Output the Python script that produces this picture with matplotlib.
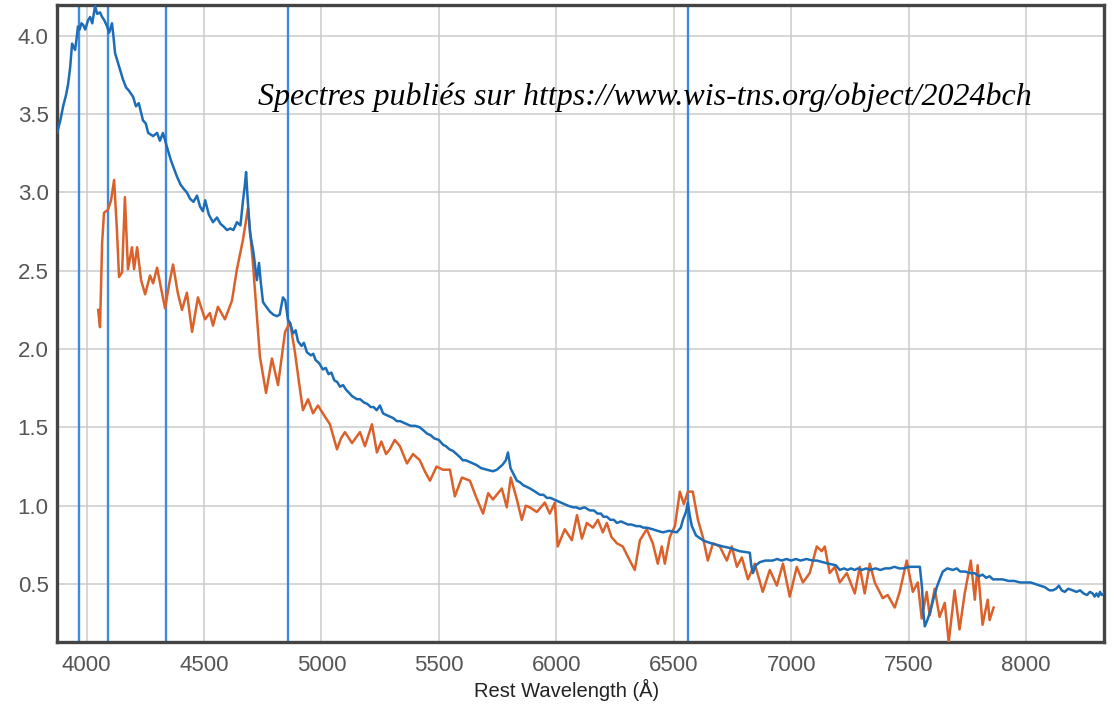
import numpy as np
import matplotlib.pyplot as plt

# first spectrum (blue)
blue_wl = [3874, 3888, 3900, 3912, 3921, 3930, 3938, 3944, 3951, 3957, 3963, 3970,
           3978, 3985, 3994, 4006, 4015, 4024, 4036, 4045, 4057, 4066, 4075, 4087,
           4096, 4108, 4114, 4121, 4135, 4147, 4155, 4168, 4180, 4198, 4210, 4222,
           4240, 4252, 4262, 4283, 4300, 4312, 4325, 4333, 4342, 4360, 4385, 4400,
           4415, 4427, 4440, 4455, 4470, 4483, 4495, 4505, 4520, 4538, 4555, 4570,
           4585, 4598, 4612, 4625, 4640, 4655, 4666, 4674, 4679, 4686, 4696, 4710,
           4725, 4734, 4742, 4751, 4765, 4780, 4795, 4810, 4822, 4836, 4846, 4857,
           4868, 4879, 4890, 4900, 4915, 4925, 4938, 4955, 4965, 4975, 4990, 5006,
           5018, 5030, 5042, 5055, 5067, 5079, 5092, 5105, 5118, 5130, 5151, 5165,
           5180, 5195, 5210, 5222, 5235, 5249, 5262, 5275, 5290, 5305, 5321, 5335,
           5350, 5365, 5380, 5400, 5419, 5435, 5450, 5465, 5480, 5500, 5517, 5530,
           5545, 5560, 5575, 5590, 5602, 5615, 5630, 5645, 5660, 5680, 5704, 5730,
           5747, 5770, 5785, 5794, 5805, 5832, 5845, 5860, 5875, 5888, 5910, 5930,
           5945, 5960, 5975, 5990, 6005, 6020, 6035, 6050, 6071, 6085, 6100, 6120,
           6143, 6160, 6175, 6190, 6200, 6215, 6230, 6245, 6258, 6275, 6290, 6305,
           6320, 6340, 6356, 6370, 6385, 6410, 6430, 6454, 6480, 6513, 6530, 6539,
           6552, 6560, 6568, 6577, 6595, 6624, 6640, 6660, 6685, 6709, 6740, 6780,
           6824, 6830, 6837, 6850, 6867, 6890, 6922, 6940, 6960, 6980, 7000, 7020,
           7040, 7065, 7092, 7110, 7134, 7160, 7190, 7207, 7225, 7240, 7255, 7270,
           7285, 7300, 7320, 7335, 7360, 7380, 7400, 7420, 7440, 7460, 7480, 7500,
           7525, 7548, 7552, 7557, 7563, 7569, 7580, 7591, 7605, 7620, 7635, 7646,
           7665, 7689, 7705, 7720, 7740, 7761, 7780, 7800, 7815, 7830, 7845, 7859,
           7880, 7900, 7925, 7950, 7975, 8004, 8020, 8040, 8060, 8080, 8100, 8114,
           8128, 8140, 8152, 8165, 8180, 8199, 8215, 8230, 8245, 8260, 8272, 8284,
           8292, 8300, 8308, 8315, 8322, 8331]
blue_flux = [3.38, 3.46, 3.55, 3.62, 3.69, 3.80, 3.95, 3.93, 3.91, 3.98, 4.06, 4.04,
             4.08, 4.07, 4.04, 4.10, 4.12, 4.08, 4.19, 4.14, 4.15, 4.12, 4.10, 4.06,
             4.02, 4.08, 4.00, 3.89, 3.82, 3.76, 3.72, 3.67, 3.65, 3.61, 3.55, 3.57,
             3.46, 3.44, 3.38, 3.36, 3.38, 3.33, 3.38, 3.34, 3.29, 3.20, 3.10, 3.05,
             3.02, 3.00, 2.96, 2.94, 2.98, 2.91, 2.88, 2.95, 2.86, 2.81, 2.84, 2.80,
             2.78, 2.76, 2.77, 2.76, 2.81, 2.79, 2.95, 3.05, 3.13, 2.95, 2.74, 2.62,
             2.44, 2.55, 2.42, 2.30, 2.27, 2.24, 2.22, 2.21, 2.22, 2.33, 2.31, 2.19,
             2.16, 2.10, 2.12, 2.05, 2.02, 2.04, 1.98, 1.96, 1.97, 1.93, 1.91, 1.87,
             1.88, 1.84, 1.85, 1.80, 1.79, 1.76, 1.77, 1.74, 1.72, 1.70, 1.68, 1.68,
             1.66, 1.65, 1.63, 1.63, 1.61, 1.64, 1.59, 1.58, 1.57, 1.56, 1.54, 1.54,
             1.53, 1.52, 1.51, 1.51, 1.50, 1.48, 1.46, 1.45, 1.43, 1.42, 1.39, 1.38,
             1.36, 1.35, 1.33, 1.31, 1.29, 1.29, 1.28, 1.27, 1.26, 1.24, 1.23, 1.22,
             1.23, 1.26, 1.29, 1.34, 1.24, 1.16, 1.15, 1.13, 1.12, 1.11, 1.09, 1.07,
             1.07, 1.05, 1.05, 1.04, 1.03, 1.02, 1.01, 1.00, 0.99, 0.99, 0.98, 0.99,
             0.97, 0.97, 0.95, 0.95, 0.93, 0.93, 0.91, 0.91, 0.89, 0.90, 0.89, 0.88,
             0.88, 0.87, 0.87, 0.86, 0.86, 0.85, 0.84, 0.83, 0.84, 0.83, 0.86, 0.91,
             0.96, 1.02, 0.94, 0.87, 0.81, 0.78, 0.77, 0.76, 0.75, 0.74, 0.73, 0.71,
             0.70, 0.62, 0.57, 0.62, 0.64, 0.65, 0.65, 0.66, 0.65, 0.66, 0.65, 0.66,
             0.65, 0.66, 0.65, 0.65, 0.64, 0.63, 0.62, 0.59, 0.60, 0.59, 0.60, 0.59,
             0.60, 0.59, 0.60, 0.59, 0.60, 0.59, 0.60, 0.60, 0.61, 0.60, 0.60, 0.61,
             0.61, 0.61, 0.55, 0.48, 0.32, 0.23, 0.27, 0.32, 0.40, 0.48, 0.54, 0.58,
             0.60, 0.59, 0.60, 0.58, 0.58, 0.57, 0.57, 0.55, 0.56, 0.54, 0.55, 0.53,
             0.53, 0.53, 0.52, 0.52, 0.51, 0.51, 0.51, 0.50, 0.49, 0.48, 0.46, 0.46,
             0.47, 0.49, 0.46, 0.45, 0.47, 0.46, 0.45, 0.46, 0.44, 0.43, 0.45, 0.44,
             0.42, 0.44, 0.42, 0.45, 0.43, 0.44]

# second spectrum (orange)
orange_wl = [4049, 4057, 4066, 4074, 4091, 4104, 4117, 4129, 4138, 4151, 4163, 4176,
             4193, 4202, 4215, 4232, 4249, 4270, 4283, 4300, 4318, 4334, 4352, 4368,
             4388, 4406, 4427, 4449, 4474, 4504, 4525, 4538, 4559, 4589, 4619, 4640,
             4666, 4687, 4708, 4738, 4764, 4789, 4815, 4845, 4866, 4887, 4905, 4921,
             4943, 4964, 4985, 5010, 5036, 5066, 5083, 5100, 5130, 5164, 5185, 5200,
             5215, 5236, 5255, 5275, 5291, 5312, 5334, 5364, 5390, 5419, 5440, 5462,
             5490, 5517, 5547, 5568, 5598, 5632, 5660, 5688, 5710, 5730, 5768, 5789,
             5806, 5832, 5853, 5870, 5887, 5917, 5951, 5972, 5994, 6006, 6036, 6066,
             6088, 6109, 6130, 6156, 6177, 6198, 6215, 6235, 6258, 6283, 6313, 6334,
             6356, 6385, 6411, 6432, 6449, 6462, 6483, 6505, 6526, 6543, 6560, 6581,
             6603, 6624, 6645, 6667, 6696, 6726, 6747, 6769, 6790, 6816, 6845, 6879,
             6909, 6939, 6965, 6994, 7024, 7050, 7079, 7109, 7130, 7143, 7164, 7186,
             7207, 7237, 7271, 7292, 7313, 7335, 7356, 7390, 7411, 7441, 7462, 7492,
             7518, 7539, 7556, 7577, 7590, 7611, 7632, 7654, 7671, 7696, 7717, 7739,
             7765, 7782, 7794, 7815, 7837, 7845, 7862]
orange_flux = [2.25, 2.14, 2.68, 2.87, 2.89, 2.95, 3.08, 2.76, 2.46, 2.49, 2.97, 2.51,
               2.65, 2.51, 2.65, 2.44, 2.35, 2.47, 2.42, 2.52, 2.38, 2.26, 2.42, 2.54,
               2.36, 2.25, 2.36, 2.11, 2.33, 2.19, 2.23, 2.15, 2.27, 2.19, 2.31, 2.51,
               2.70, 2.90, 2.55, 1.95, 1.72, 1.94, 1.77, 2.11, 2.17, 1.98, 1.78, 1.61,
               1.68, 1.59, 1.64, 1.58, 1.52, 1.36, 1.43, 1.47, 1.40, 1.47, 1.38, 1.45,
               1.52, 1.34, 1.41, 1.33, 1.36, 1.42, 1.38, 1.27, 1.33, 1.29, 1.22, 1.16,
               1.25, 1.23, 1.23, 1.06, 1.18, 1.16, 1.05, 0.95, 1.08, 1.04, 1.11, 0.99,
               1.18, 1.04, 0.91, 1.00, 0.99, 0.96, 1.02, 0.95, 1.02, 0.74, 0.85, 0.78,
               0.94, 0.79, 0.89, 0.86, 0.91, 0.83, 0.89, 0.80, 0.76, 0.74, 0.65, 0.59,
               0.78, 0.85, 0.76, 0.63, 0.74, 0.63, 0.80, 0.87, 1.09, 1.01, 1.09, 1.09,
               0.91, 0.80, 0.65, 0.76, 0.74, 0.65, 0.74, 0.61, 0.67, 0.53, 0.63, 0.45,
               0.59, 0.49, 0.63, 0.42, 0.61, 0.51, 0.57, 0.74, 0.71, 0.74, 0.57, 0.61,
               0.51, 0.57, 0.44, 0.61, 0.44, 0.63, 0.51, 0.41, 0.43, 0.35, 0.45, 0.65,
               0.45, 0.51, 0.28, 0.45, 0.30, 0.47, 0.29, 0.38, 0.13, 0.46, 0.21, 0.44,
               0.65, 0.40, 0.62, 0.24, 0.40, 0.27, 0.35]

# line markers
lines_wl = [3968, 4092, 4340, 4856, 6560]

xticks = np.arange(4000, 8001, 500)
yticks = np.arange(0.5, 4.01, 0.5)

plt.rcParams['font.family'] = ['Liberation Sans', 'DejaVu Sans']

fig = plt.figure(figsize=(11.14, 7.08), dpi=100)
ax = fig.add_axes([0.0512, 0.0932, 0.9398, 0.8998])

for wl in lines_wl:
  ax.axvline(wl, color='#3d8ae0', lw=1.7, zorder=2)

ax.plot(orange_wl, orange_flux, color='#db612a', lw=1.8, zorder=3)
ax.plot(blue_wl, blue_flux, color='#1c6db6', lw=1.8, zorder=4)

ax.set_xlim(3874, 8332)
ax.set_ylim(0.13, 4.197)
ax.set_xticks(xticks)
ax.set_yticks(yticks)
ax.set_yticklabels(['%.1f' % v for v in yticks])
ax.grid(True, color='#cbcbcb', lw=1.1, zorder=0)
ax.set_axisbelow(True)
ax.tick_params(length=0, labelsize=16, labelcolor='#555555', pad=9)
ax.tick_params(axis='y', pad=6)

for sp in ax.spines.values():
  sp.set_color('#444444')
  sp.set_linewidth(2.4)

ax.set_xlabel('Rest Wavelength (Å)', fontsize=14.5, color='#222222')
ax.xaxis.set_label_coords(0.487, -0.058)

fig.text(0.2316, 0.862, 'Spectres publiés sur https://www.wis-tns.org/object/2024bch',
         family=['Liberation Serif', 'DejaVu Serif'], style='italic', fontsize=23,
         va='center', ha='left', color='black')

fig.savefig('out.png', dpi=100)
